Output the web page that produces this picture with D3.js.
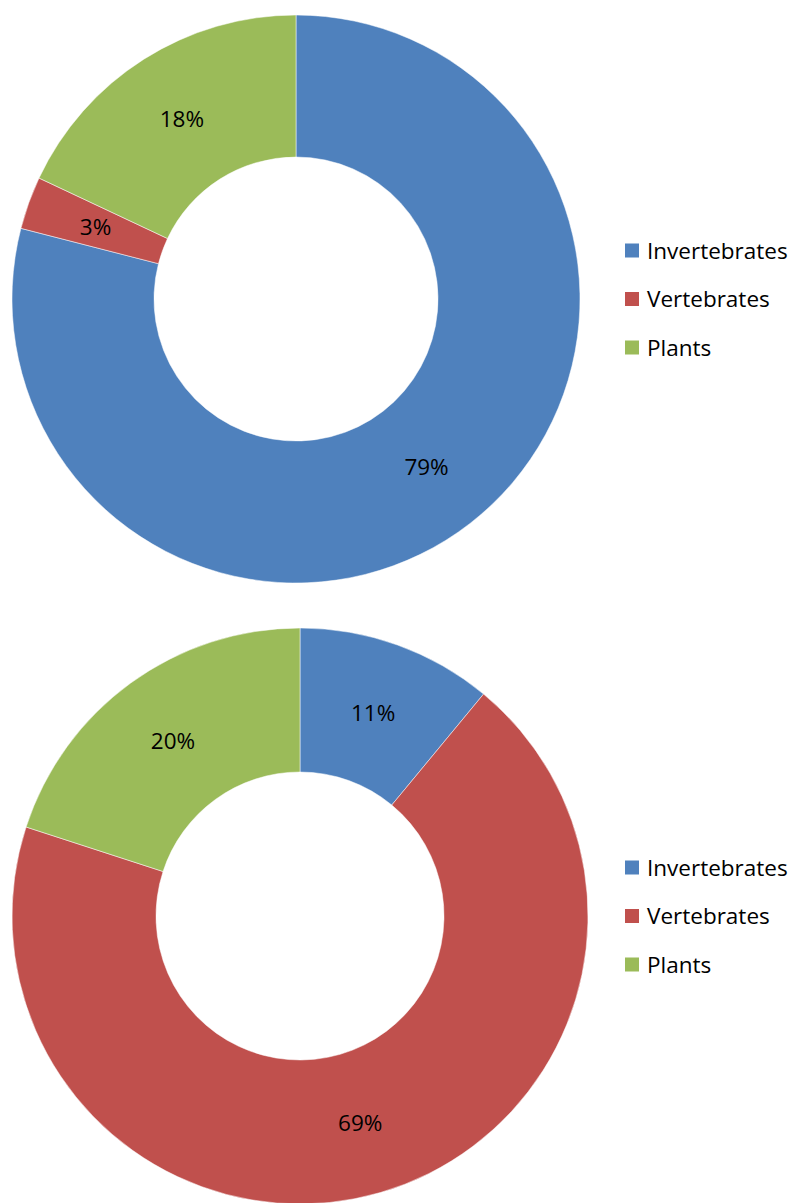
<!DOCTYPE html>
<html>
<head>
<meta charset="utf-8">
<script src="https://cdn.jsdelivr.net/npm/d3@7"></script>
<style>
  body { margin: 0; background: #fff; }
  svg text { font-family: "Open Sans", sans-serif; fill: #000; }
</style>
</head>
<body>
<svg id="chart" width="795" height="1203"></svg>
<script>
// Two donut charts: share of species groups
const categories = ["Invertebrates", "Vertebrates", "Plants"];
const topValues = [79, 3, 18];
const bottomValues = [11, 69, 20];
const colors = ["#4F81BD", "#C0504D", "#9BBB59"];

(function () {
  const svg = d3.select("#chart");
  const color = d3.scaleOrdinal().domain(categories).range(colors);

  const charts = [
    { values: topValues, cx: 296, cy: 299, outer: 284, inner: 142 },
    { values: bottomValues, cx: 300, cy: 916, outer: 288, inner: 144 },
  ];

  const pie = d3.pie().sort(null).value((d) => d.value);

  charts.forEach((c) => {
    const rows = categories.map((k, i) => ({ key: k, value: c.values[i] }));
    const arc = d3.arc().innerRadius(c.inner).outerRadius(c.outer);
    const labelArc = d3
      .arc()
      .innerRadius((c.inner + c.outer) / 2)
      .outerRadius((c.inner + c.outer) / 2);

    const g = svg.append("g").attr("transform", `translate(${c.cx},${c.cy})`);

    const slices = g.selectAll("g.slice").data(pie(rows)).join("g").attr("class", "slice");

    slices
      .append("path")
      .attr("d", arc)
      .attr("fill", (d) => color(d.data.key))
      .attr("stroke", "#fff")
      .attr("stroke-width", 0.5);

    slices
      .append("text")
      .attr("transform", (d) => `translate(${labelArc.centroid(d)})`)
      .attr("text-anchor", "middle")
      .attr("dy", "0.35em")
      .style("font-size", "22.5px")
      .text((d) => d.data.value + "%");

    // legend, centred on the donut
    const legend = svg
      .append("g")
      .attr("transform", `translate(625,${c.cy - 48.5})`);

    const items = legend
      .selectAll("g.item")
      .data(categories)
      .join("g")
      .attr("class", "item")
      .attr("transform", (d, i) => `translate(0,${i * 48.5})`);

    items
      .append("rect")
      .attr("y", -7)
      .attr("width", 14)
      .attr("height", 14)
      .attr("fill", (d) => color(d));

    items
      .append("text")
      .attr("x", 22)
      .attr("dy", "0.36em")
      .style("font-size", "22.5px")
      .text((d) => d);
  });
})();
</script>
</body>
</html>
